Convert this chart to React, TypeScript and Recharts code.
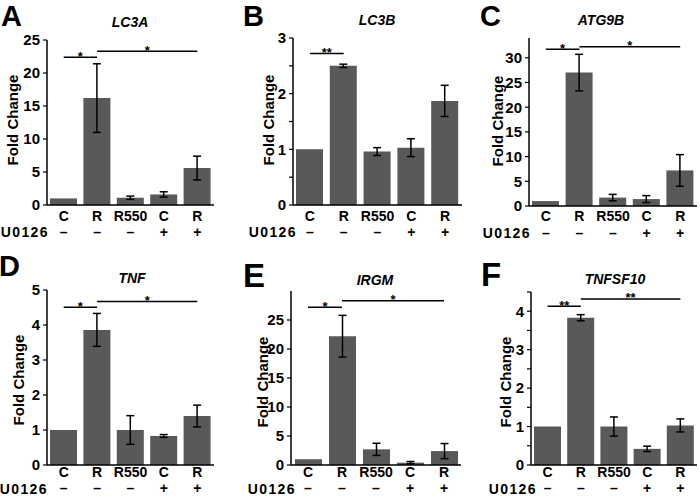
import React from 'react';
import { BarChart, Bar, XAxis, YAxis, ErrorBar, ReferenceLine } from 'recharts';

const categories = ['C', 'R', 'R550', 'C', 'R'];
const u0126Signs = ['–', '–', '–', '+', '+'];
const categoryKeys = ['C-', 'R-', 'R550-', 'C+', 'R+'];

const lc3aValues = [1.0, 16.2, 1.1, 1.6, 5.6];
const lc3aErrors = [0, 5.2, 0.25, 0.4, 1.8];
const lc3bValues = [1.0, 2.5, 0.96, 1.03, 1.87];
const lc3bErrors = [0, 0.03, 0.07, 0.16, 0.28];
const atg9bValues = [1.0, 27.0, 1.7, 1.4, 7.2];
const atg9bErrors = [0, 3.7, 0.65, 0.7, 3.2];
const tnfValues = [1.0, 3.86, 1.0, 0.83, 1.4];
const tnfErrors = [0, 0.47, 0.41, 0.04, 0.31];
const irgmValues = [1.0, 22.2, 2.7, 0.4, 2.4];
const irgmErrors = [0, 3.6, 1.05, 0.2, 1.3];
const tnfsf10Values = [1.0, 3.83, 1.0, 0.42, 1.03];
const tnfsf10Errors = [0, 0.08, 0.25, 0.07, 0.17];

const lc3aTicks = [0, 5, 10, 15, 20, 25];
const lc3bTicks = [0, 0.5, 1, 1.5, 2, 2.5, 3];
const atg9bTicks = [0, 5, 10, 15, 20, 25, 30];
const tnfTicks = [0, 1, 2, 3, 4, 5];
const irgmTicks = [0, 5, 10, 15, 20, 25];
const tnfsf10Ticks = [0, 0.5, 1, 1.5, 2, 2.5, 3, 3.5, 4, 4.5];

const lc3aSig = [{ from: 0, to: 1, y: 22.4, mark: '*' }, { from: 1, to: 4, y: 23.3, mark: '*' }];
const lc3bSig = [{ from: 0, to: 1, y: 2.72, mark: '**' }];
const atg9bSig = [{ from: 0, to: 1, y: 31.7, mark: '*' }, { from: 1, to: 4, y: 32.25, mark: '*' }];
const tnfSig = [{ from: 0, to: 1, y: 4.51, mark: '*' }, { from: 1, to: 4, y: 4.67, mark: '*' }];
const irgmSig = [{ from: 0, to: 1, y: 27.2, mark: '*' }, { from: 1, to: 4, y: 28.3, mark: '*' }];
const tnfsf10Sig = [{ from: 0, to: 1, y: 4.13, mark: '**' }, { from: 1, to: 4, y: 4.32, mark: '**' }];

const FONT = '"Liberation Sans", Arial, Helvetica, sans-serif';
const BAR_FILL = '#595959';
const TXT = 15;
const CAT_TXT = 14;

const buildData = (values: number[], errors: number[]) =>
  categoryKeys.map((k, i) => ({ key: k, value: values[i], err: errors[i] }));

type Panel = {
  letter: string; title: string; values: number[]; errors: number[]; ticks: number[];
  domain: [number, number]; sig: { from: number; to: number; y: number; mark: string }[];
  ox: number; oy: number; w: number; h: number; box: [number, number, number, number];
  letterX: number; letterY: number; letterSize: number; titleX: number; titleY: number;
  ylabX: number; ylabY: number; uEnd: number; catDy: number; signDy: number;
};

const panels: Panel[] = [
  { letter: 'A', title: 'LC3A', values: lc3aValues, errors: lc3aErrors, ticks: lc3aTicks, domain: [0, 25], sig: lc3aSig,
    ox: 0, oy: 0, w: 232, h: 248, box: [47, 40, 214, 205], letterX: 1, letterY: 26, letterSize: 29, titleX: 130, titleY: 27,
    ylabX: 17.5, ylabY: 120, uEnd: 49, catDy: 15.5, signDy: 32 },
  { letter: 'B', title: 'LC3B', values: lc3bValues, errors: lc3bErrors, ticks: lc3bTicks, domain: [0, 3], sig: lc3bSig,
    ox: 232, oy: 0, w: 232, h: 248, box: [293, 38, 462, 205], letterX: 243, letterY: 26, letterSize: 29, titleX: 377, titleY: 25,
    ylabX: 273.5, ylabY: 120, uEnd: 297, catDy: 15.5, signDy: 32 },
  { letter: 'C', title: 'ATG9B', values: atg9bValues, errors: atg9bErrors, ticks: atg9bTicks, domain: [0, 34], sig: atg9bSig,
    ox: 466, oy: 0, w: 234, h: 248, box: [529, 38, 697, 206], letterX: 480, letterY: 26, letterSize: 29, titleX: 601, titleY: 25,
    ylabX: 502.5, ylabY: 121, uEnd: 531, catDy: 15, signDy: 31.5 },
  { letter: 'D', title: 'TNF', values: tnfValues, errors: tnfErrors, ticks: tnfTicks, domain: [0, 5], sig: tnfSig,
    ox: 0, oy: 248, w: 232, h: 249, box: [47, 290, 214, 465], letterX: -1, letterY: 276, letterSize: 29, titleX: 132, titleY: 283,
    ylabX: 24, ylabY: 380, uEnd: 48, catDy: 12.3, signDy: 28.2 },
  { letter: 'E', title: 'IRGM', values: irgmValues, errors: irgmErrors, ticks: irgmTicks, domain: [0, 30], sig: irgmSig,
    ox: 232, oy: 248, w: 232, h: 249, box: [291, 291, 461, 465], letterX: 243, letterY: 287, letterSize: 33, titleX: 375, titleY: 285,
    ylabX: 267.5, ylabY: 382, uEnd: 296, catDy: 12.3, signDy: 28.2 },
  { letter: 'F', title: 'TNFSF10', values: tnfsf10Values, errors: tnfsf10Errors, ticks: tnfsf10Ticks, domain: [0, 4.5], sig: tnfsf10Sig,
    ox: 466, oy: 248, w: 234, h: 249, box: [531, 292, 697, 465], letterX: 481, letterY: 286, letterSize: 33, titleX: 615, titleY: 284,
    ylabX: 510.5, ylabY: 382, uEnd: 537, catDy: 12.3, signDy: 28.2 },
];

const StarLabel = (props: any) => {
  const { viewBox, text } = props;
  if (!viewBox) return null;
  const { x, y, width } = viewBox;
  return (
    <text x={x + (width || 0) / 2} y={y + 3.5} textAnchor="middle" fontSize={13} fontWeight="bold" fill="#000" fontFamily={FONT}>
      {text}
    </text>
  );
};

const makeXTick = (plotBottom: number, catDy: number, signDy: number) => (props: any) => {
  const { x, payload } = props;
  const i = categoryKeys.indexOf(payload.value);
  return (
    <g>
      <text x={x} y={plotBottom + catDy} textAnchor="middle" fontSize={CAT_TXT} fontWeight="bold" fill="#000" fontFamily={FONT}>
        {categories[i]}
      </text>
      <text x={x} y={plotBottom + signDy} textAnchor="middle" fontSize={CAT_TXT} fontWeight="bold" fill="#000" fontFamily={FONT}>
        {u0126Signs[i]}
      </text>
    </g>
  );
};

const PanelChart = ({ p }: { p: Panel }) => {
  const [bl, bt, br, bb] = p.box;
  const data = buildData(p.values, p.errors);
  const axisStyle = { stroke: '#000', strokeWidth: 1.5 };
  return (
    <div style={{ position: 'absolute', left: p.ox, top: p.oy, width: p.w, height: p.h }}>
      <BarChart width={p.w} height={p.h} data={data} margin={{ top: bt - p.oy, right: p.ox + p.w - br, left: 0, bottom: 0 }}>
        <XAxis dataKey="key" height={p.oy + p.h - bb} axisLine={axisStyle} tickLine={false} tick={makeXTick(bb - p.oy, p.catDy, p.signDy)} interval={0} />
        <XAxis xAxisId="top" orientation="top" dataKey="key" height={0} axisLine={axisStyle} tickLine={false} tick={false} />
        <YAxis
          width={bl - p.ox}
          domain={p.domain}
          ticks={p.ticks}
          type="number"
          allowDataOverflow
          axisLine={axisStyle}
          tickLine={{ stroke: '#000', strokeWidth: 1.2 }}
          tickSize={4}
          tickMargin={3}
          interval={0}
          tickFormatter={(v: number) => (Number.isInteger(v) ? String(v) : '')}
          tick={{ fontSize: TXT, fontWeight: 'bold', fill: '#000', fontFamily: FONT }}
        />
        <YAxis yAxisId="right" orientation="right" width={0} domain={[0, 1]} axisLine={axisStyle} tickLine={false} tick={false} />
        <Bar dataKey="value" fill={BAR_FILL} barSize={27} isAnimationActive={false}>
          <ErrorBar dataKey="err" width={4} strokeWidth={1.5} stroke="#000" direction="y" isAnimationActive={false} />
        </Bar>
        {p.sig.map((s, idx) => (
          <ReferenceLine
            key={idx}
            segment={[{ x: categoryKeys[s.from], y: s.y }, { x: categoryKeys[s.to], y: s.y }]}
            stroke="#000"
            strokeWidth={1.5}
            ifOverflow="visible"
            label={<StarLabel text={s.mark} />}
          />
        ))}
      </BarChart>
    </div>
  );
};

export default function App() {
  return (
    <div style={{ position: 'absolute', left: 0, top: 0, width: 700, height: 497, background: '#fff', overflow: 'hidden' }}>
      {panels.map((p) => (
        <PanelChart key={p.letter} p={p} />
      ))}
      <svg width={700} height={497} style={{ position: 'absolute', left: 0, top: 0, pointerEvents: 'none' }}>
        {panels.map((p) => (
          <g key={p.letter} fontFamily={FONT} fill="#000">
            <text x={p.letterX} y={p.letterY} fontSize={p.letterSize} fontWeight="bold">{p.letter}</text>
            <text x={p.titleX} y={p.titleY} fontSize={14} fontWeight="bold" fontStyle="italic" textAnchor="middle">{p.title}</text>
            <text x={p.ylabX} y={p.ylabY} fontSize={TXT} fontWeight="bold" textAnchor="middle" transform={`rotate(-90 ${p.ylabX} ${p.ylabY})`}>Fold Change</text>
            <text x={p.uEnd} y={p.box[3] + p.signDy + 0.3} fontSize={14} fontWeight="bold" textAnchor="end" letterSpacing={1.4}>U0126</text>
          </g>
        ))}
      </svg>
    </div>
  );
}
